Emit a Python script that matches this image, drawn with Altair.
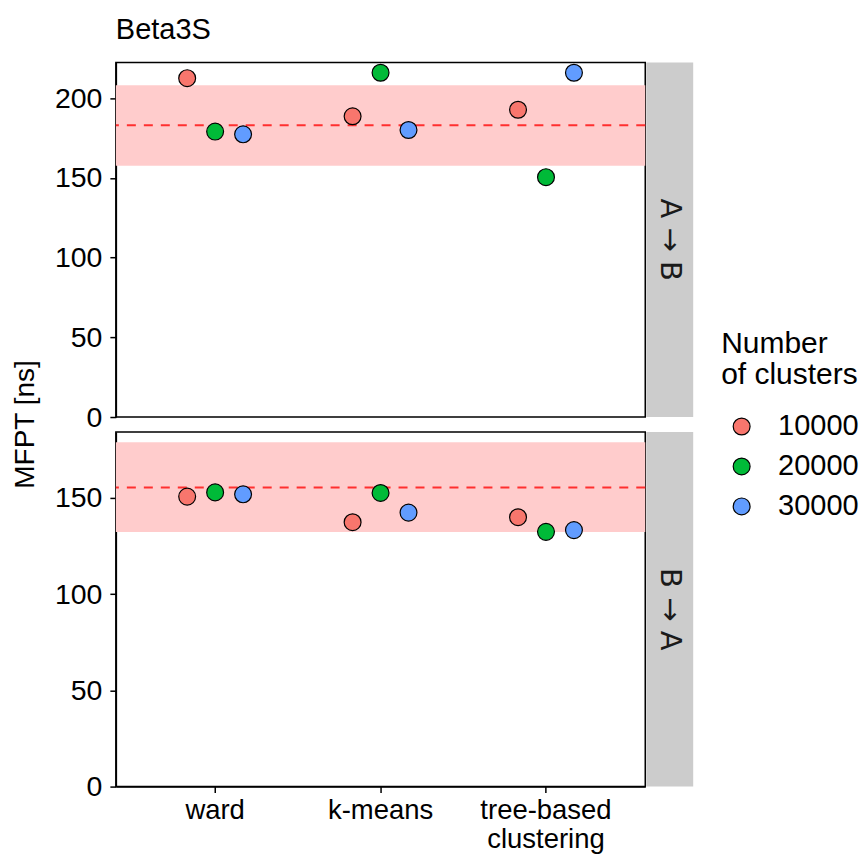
import altair as alt
import pandas as pd

# Clustering methods on the x axis and the cluster counts that are dodged within each
methods = ["ward", "k-means", "tree-based clustering"]
cluster_sizes = ["10000", "20000", "30000"]
cluster_colors = ["#F8766D", "#00BA38", "#619CFF"]

# MFPT [ns], one row per method, one value per cluster count
mfpt_ab = [
    [212.5, 179.0, 177.3],
    [188.6, 215.9, 180.0],
    [192.7, 150.4, 215.9],
]
mfpt_ba = [
    [150.6, 152.8, 151.8],
    [137.3, 152.5, 142.3],
    [139.9, 132.3, 133.2],
]

# Reference MFPT: [estimate, lower bound, upper bound]
ref_ab = [183.0, 157.5, 208.1]
ref_ba = [155.4, 132.2, 178.8]

directions = ["A \u2192 B", "B \u2192 A"]
y_ticks = [0, 50, 100, 150, 200]

FONT = "Liberation Sans"
W, H = 530, 355
STRIP_W = 47


def points_frame(values):
    rows = []
    for method, row in zip(methods, values):
        for size, v in zip(cluster_sizes, row):
            rows.append({"method": method, "clusters": size, "mfpt": v})
    return pd.DataFrame(rows)


def panel(values, ref, label, first):
    pts = points_frame(values)
    ref_df = pd.DataFrame([{"ref": ref[0], "lo": ref[1], "hi": ref[2], "direction": label}])

    # headroom above the largest value, zero at the bottom edge
    top = max(max(max(r) for r in values), ref[2]) * 1.03
    y_scale = alt.Scale(domain=[0, top], nice=False, zero=True)
    if first:
        y_axis = alt.Axis(
            values=y_ticks, title="MFPT [ns]", titleX=-90, titleY=H + 7,
            titleAngle=270, titleAlign="center", titleBaseline="middle",
            titleFontSize=28,
        )
    else:
        y_axis = alt.Axis(values=y_ticks, title=None)

    if first:
        x_axis = None
    else:
        x_axis = alt.Axis(
            title=None, labelAngle=0, labelExpr="split(datum.label, ' ')",
            labelFontSize=27.5, labelLineHeight=28.5, labelPadding=4,
        )
    # band width equals the dodge width, so three dodged points sit 28 px apart
    x_enc = alt.X(
        "method:N", sort=methods, axis=x_axis,
        scale=alt.Scale(domain=methods, paddingInner=0.493, paddingOuter=0.3465),
    )

    band = alt.Chart(ref_df).mark_rect(color="#FFCCCC").encode(
        x=alt.value(0), x2=alt.value(W),
        y=alt.Y("lo:Q", scale=y_scale, axis=y_axis), y2="hi:Q",
    )
    rule = alt.Chart(ref_df).mark_rule(
        color="#FF2F2F", strokeDash=[9, 8], strokeWidth=2
    ).encode(y=alt.Y("ref:Q", scale=y_scale, axis=y_axis))

    dots = alt.Chart(pts).mark_circle(
        size=285, opacity=1, stroke="black", strokeWidth=1.2
    ).encode(
        x=x_enc,
        xOffset=alt.XOffset(
            "clusters:N",
            scale=alt.Scale(type="point", domain=cluster_sizes, padding=0.5),
        ),
        y=alt.Y("mfpt:Q", scale=y_scale, axis=y_axis),
        color=alt.Color(
            "clusters:N",
            scale=alt.Scale(domain=cluster_sizes, range=cluster_colors),
            legend=alt.Legend(
                title=["Number", "of clusters"], orient="none",
                legendX=606, legendY=267, padding=0,
                titleFontSize=30, titleFontWeight="normal", titleLineHeight=31,
                titleColor="black", titleFont=FONT, titlePadding=22,
                labelFontSize=29, labelColor="black", labelFont=FONT,
                symbolType="circle", symbolSize=285, symbolStrokeColor="black",
                symbolStrokeWidth=1.2, symbolOpacity=1, symbolOffset=6,
                labelOffset=22, rowPadding=10,
            ),
        ),
    )

    strip = alt.Chart(ref_df).mark_rect(color="#CCCCCC").encode(
        x=alt.value(W + 1), x2=alt.value(W + 1 + STRIP_W),
        y=alt.value(0), y2=alt.value(H),
    )
    strip_text = alt.Chart(ref_df).mark_text(
        angle=90, fontSize=29, font="DejaVu Sans", color="#1A1A1A",
        baseline="middle", align="center",
    ).encode(
        x=alt.value(W + 1 + STRIP_W / 2), y=alt.value(H / 2), text="direction:N"
    )

    return alt.layer(band, rule, dots, strip, strip_text).properties(width=W, height=H)


top_panel = panel(mfpt_ab, ref_ab, directions[0], True)
bottom_panel = panel(mfpt_ba, ref_ba, directions[1], False)

chart = (
    alt.vconcat(top_panel, bottom_panel, spacing=15, bounds="flush")
    .resolve_scale(y="independent")
    .properties(
        title=alt.TitleParams(
            "Beta3S", anchor="start", frame="group", fontSize=29,
            fontWeight="normal", baseline="alphabetic", offset=-7,
            color="black", font=FONT,
        ),
        padding={"left": 11, "top": 15, "right": 5, "bottom": 5},
    )
    .configure(font=FONT)
    .configure_view(stroke="black", strokeWidth=1.5)
    .configure_axis(
        grid=False, labelFont=FONT, labelFontSize=28.5, labelColor="black",
        titleFont=FONT, titleFontSize=28, titleFontWeight="normal", titleColor="black",
        tickColor="black", tickSize=6, tickWidth=1.5,
        domainColor="black", domainWidth=1.5, labelPadding=8,
    )
)

chart.save("out.html", embed_options={"renderer": "svg", "actions": False})
